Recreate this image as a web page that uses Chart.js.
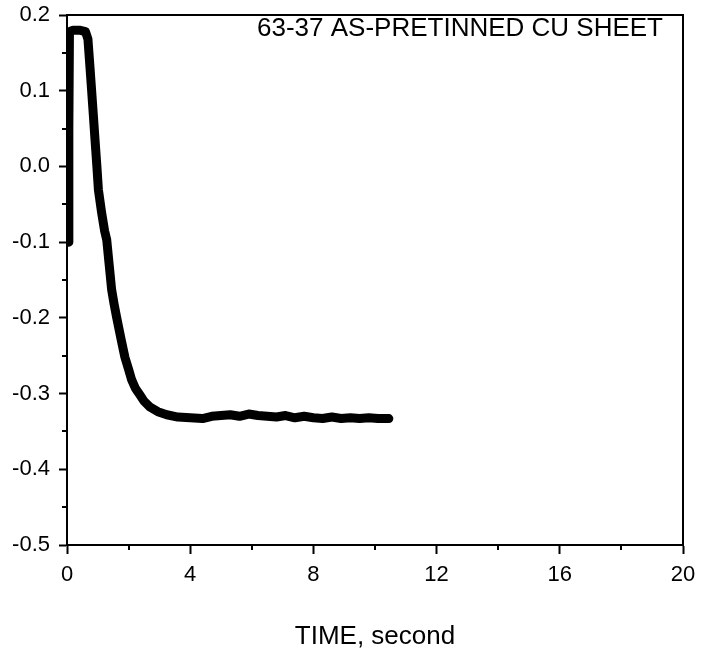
<!DOCTYPE html>
<html>
<head>
<meta charset="utf-8">
<script src="https://cdn.jsdelivr.net/npm/chart.js@4"></script>
<style>
  html, body { margin: 0; padding: 0; background: #fff; }
  #wrap { width: 710px; height: 657px; }
</style>
</head>
<body>
<div id="wrap"><canvas id="c" width="710" height="657"></canvas></div>
<script>
// ---- data ----
const timeSec = [0.05, 0.06, 0.08, 0.2, 0.4, 0.6, 0.68, 0.73, 0.8, 0.86, 0.91, 0.97, 1.02, 1.12, 1.22, 1.29, 1.37, 1.45, 1.53, 1.61, 1.75, 1.88, 2.0, 2.1, 2.22, 2.37, 2.5, 2.7, 2.95, 3.24, 3.6, 4.0, 4.4, 4.7, 5.0, 5.3, 5.6, 5.9, 6.2, 6.5, 6.8, 7.1, 7.4, 7.7, 8.0, 8.3, 8.6, 8.9, 9.2, 9.5, 9.8, 10.1, 10.45];
const signal  = [-0.10, 0.05, 0.178, 0.180, 0.180, 0.178, 0.168, 0.14, 0.10, 0.065, 0.035, 0.0, -0.031, -0.06, -0.085, -0.097, -0.13, -0.163, -0.182, -0.199, -0.227, -0.252, -0.268, -0.282, -0.293, -0.302, -0.310, -0.318, -0.324, -0.328, -0.331, -0.332, -0.333, -0.330, -0.329, -0.328, -0.330, -0.327, -0.329, -0.330, -0.331, -0.329, -0.332, -0.330, -0.332, -0.333, -0.331, -0.333, -0.332, -0.333, -0.332, -0.333, -0.333];
const xMajorTicks = [0, 4, 8, 12, 16, 20];
const xMinorTicks = [2, 6, 10, 14, 18];
const yMajorTicks = [-0.5, -0.4, -0.3, -0.2, -0.1, 0.0, 0.1, 0.2];
const yMinorTicks = [-0.45, -0.35, -0.25, -0.15, -0.05, 0.05, 0.15];
const chartLabel = '63-37 AS-PRETINNED CU SHEET';
const xAxisTitle = 'TIME, second';

const points = timeSec.map((t, i) => ({ x: t, y: signal[i] }));

const framePlugin = {
  id: 'frame',
  afterDraw(chart) {
    const { ctx, chartArea: a, scales } = chart;
    ctx.save();
    ctx.strokeStyle = '#000';
    ctx.lineWidth = 2;
    ctx.strokeRect(a.left, a.top, a.right - a.left, a.bottom - a.top);
    // minor ticks
    ctx.beginPath();
    yMinorTicks.forEach(v => {
      const y = Math.round(scales.y.getPixelForValue(v));
      ctx.moveTo(a.left - 5, y); ctx.lineTo(a.left, y);
    });
    xMinorTicks.forEach(v => {
      const x = Math.round(scales.x.getPixelForValue(v));
      ctx.moveTo(x, a.bottom); ctx.lineTo(x, a.bottom + 5);
    });
    ctx.stroke();
    // in-plot label
    ctx.fillStyle = '#000';
    ctx.font = '26px "Liberation Sans", Arial, sans-serif';
    ctx.textAlign = 'right';
    ctx.textBaseline = 'middle';
    ctx.fillText(chartLabel, a.right - 20, a.top + 14);
    ctx.restore();
  }
};

new Chart(document.getElementById('c'), {
  type: 'line',
  data: {
    datasets: [{
      data: points,
      borderColor: '#000',
      backgroundColor: '#000',
      borderWidth: 9,
      pointRadius: 0,
      tension: 0,
      borderCapStyle: 'round',
      borderJoinStyle: 'round',
      fill: false
    }]
  },
  options: {
    responsive: false,
    animation: false,
    layout: { padding: { top: 15, right: 27, left: 0, bottom: 0 } },
    plugins: { legend: { display: false }, tooltip: { enabled: false } },
    scales: {
      x: {
        type: 'linear',
        min: 0, max: 20,
        afterFit: s => { s.height = 112; s.paddingLeft = 0; s.paddingRight = 0; },
        afterBuildTicks: s => { s.ticks = xMajorTicks.map(v => ({ value: v })); },
        grid: { drawOnChartArea: false, drawTicks: true, tickLength: 9, tickWidth: 2, tickColor: '#000' },
        border: { display: true, color: '#000', width: 2 },
        ticks: {
          color: '#000', padding: 8, maxRotation: 0,
          font: { family: '"Liberation Sans", Arial, sans-serif', size: 22 },
          callback: v => String(v)
        },
        title: {
          display: true, text: xAxisTitle, color: '#000',
          font: { family: '"Liberation Sans", Arial, sans-serif', size: 26 },
          padding: { top: 0, bottom: 5 }
        }
      },
      y: {
        type: 'linear',
        min: -0.5, max: 0.2,
        afterFit: s => { s.width = 67; s.paddingTop = 0; s.paddingBottom = 0; },
        afterBuildTicks: s => { s.ticks = yMajorTicks.map(v => ({ value: v })); },
        grid: { drawOnChartArea: false, drawTicks: true, tickLength: 8, tickWidth: 2, tickColor: '#000' },
        border: { display: true, color: '#000', width: 2 },
        ticks: {
          color: '#000', padding: 9,
          font: { family: '"Liberation Sans", Arial, sans-serif', size: 22 },
          callback: v => (Math.abs(v) < 1e-9 ? 0 : v).toFixed(1)
        }
      }
    }
  },
  plugins: [framePlugin]
});
</script>
</body>
</html>
